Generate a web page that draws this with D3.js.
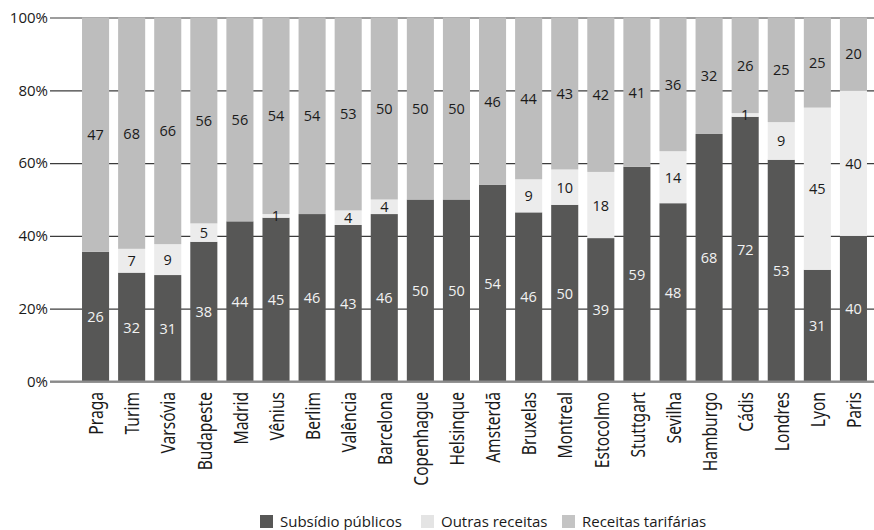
<!DOCTYPE html>
<html>
<head>
<meta charset="utf-8">
<script src="https://cdn.jsdelivr.net/npm/d3@7"></script>
<style>
  html, body { margin: 0; padding: 0; background: #fff; }
  svg { display: block; }
  .val { font-family: "Open Sans", sans-serif; font-size: 14.5px; }
  .ytick { font-family: "Open Sans", sans-serif; font-size: 15px; fill: #1a1a1a; }
  .xlab { font-family: "Noto Sans", sans-serif; font-size: 19.5px; fill: #1a1a1a; }
  .leg { font-family: "Open Sans", sans-serif; font-size: 15px; fill: #1a1a1a; }
</style>
</head>
<body>
<svg id="chart" width="874" height="530"></svg>
<script>
// Cities and revenue shares (%) per source of funding
const cities = ["Praga","Turim","Varsóvia","Budapeste","Madrid","Vênius","Berlim","Valência","Barcelona","Copenhague","Helsinque","Amsterdã","Bruxelas","Montreal","Estocolmo","Stuttgart","Sevilha","Hamburgo","Cádis","Londres","Lyon","Paris"];
const subsidio = [26,32,31,38,44,45,46,43,46,50,50,54,46,50,39,59,48,68,72,53,31,40];
const outras   = [0,7,9,5,0,1,0,4,4,0,0,0,9,10,18,0,14,0,1,9,45,40];
const tarifas  = [47,68,66,56,56,54,54,53,50,50,50,46,44,43,42,41,36,32,26,25,25,20];

const seriesNames = ["Subsídio públicos","Outras receitas","Receitas tarifárias"];
const seriesKeys = ["subsidio","outras","tarifas"];
const colors = ["#575756","#ececec","#bdbdbd"];
const legendColors = ["#575756","#e4e4e4","#c4c4c4"];
const labelColors = ["#f2f2f2","#1a1a1a","#1a1a1a"];
const yTicks = [0,0.2,0.4,0.6,0.8,1];

const rows = cities.map((c,i) => ({city:c, subsidio:subsidio[i], outras:outras[i], tarifas:tarifas[i]}));

const svg = d3.select("#chart");

const x = d3.scaleBand().domain(cities).range([73, 876]).paddingInner(0.25).paddingOuter(0.25);
const y = d3.scaleLinear().domain([0,1]).range([381.5, 17.5]);

// gridlines + percent labels
const yAxis = svg.append("g")
  .attr("transform", "translate(50,0)")
  .call(d3.axisLeft(y).tickValues(yTicks).tickSize(-(874-50)).tickPadding(2).tickFormat(d => Math.round(d*100) + "%"));
yAxis.select(".domain").remove();
yAxis.selectAll(".tick line").attr("stroke", "#3c3c3c").attr("stroke-width", 1.2);
yAxis.selectAll(".tick text").attr("class","ytick").attr("x", -2);

// stacked, normalised bars
const stack = d3.stack().keys(seriesKeys).offset(d3.stackOffsetExpand);
const stacked = stack(rows);

const groups = svg.append("g").selectAll("g")
  .data(stacked).join("g")
  .attr("fill", (d,i) => colors[i]);

groups.selectAll("rect")
  .data(d => d.filter(s => s[1] - s[0] > 0))
  .join("rect")
  .attr("x", d => x(d.data.city))
  .attr("width", x.bandwidth())
  .attr("y", d => y(d[1]))
  .attr("height", d => y(d[0]) - y(d[1]));

// baseline
svg.append("line")
  .attr("x1", 50).attr("x2", 874)
  .attr("y1", y(0)).attr("y2", y(0))
  .attr("stroke", "#8a8a8a").attr("stroke-width", 2);

// value labels at segment centres
stacked.forEach((layer, li) => {
  svg.append("g").selectAll("text")
    .data(layer.filter(s => s.data[layer.key] > 0))
    .join("text")
    .attr("class","val")
    .attr("x", d => x(d.data.city) + x.bandwidth()/2)
    .attr("y", d => y((d[0]+d[1])/2))
    .attr("text-anchor","middle")
    .attr("dominant-baseline","central")
    .attr("fill", labelColors[li])
    .text(d => d.data[layer.key]);
});

// rotated, condensed city names
svg.append("g").selectAll("text")
  .data(cities).join("text")
  .attr("class","xlab")
  .attr("transform", d => `translate(${x(d) + x.bandwidth()/2},392) rotate(-90) scale(0.8,1)`)
  .attr("text-anchor","end")
  .attr("dominant-baseline","central")
  .text(d => d);

// legend
const legendX = [260, 421, 562];
const leg = svg.append("g").selectAll("g")
  .data(seriesNames).join("g")
  .attr("transform", (d,i) => `translate(${legendX[i]},515)`);
leg.append("rect").attr("width", 13).attr("height", 13).attr("fill", (d,i) => legendColors[i]);
leg.append("text").attr("class","leg").attr("x", 20).attr("y", 12).text(d => d);
</script>
</body>
</html>
